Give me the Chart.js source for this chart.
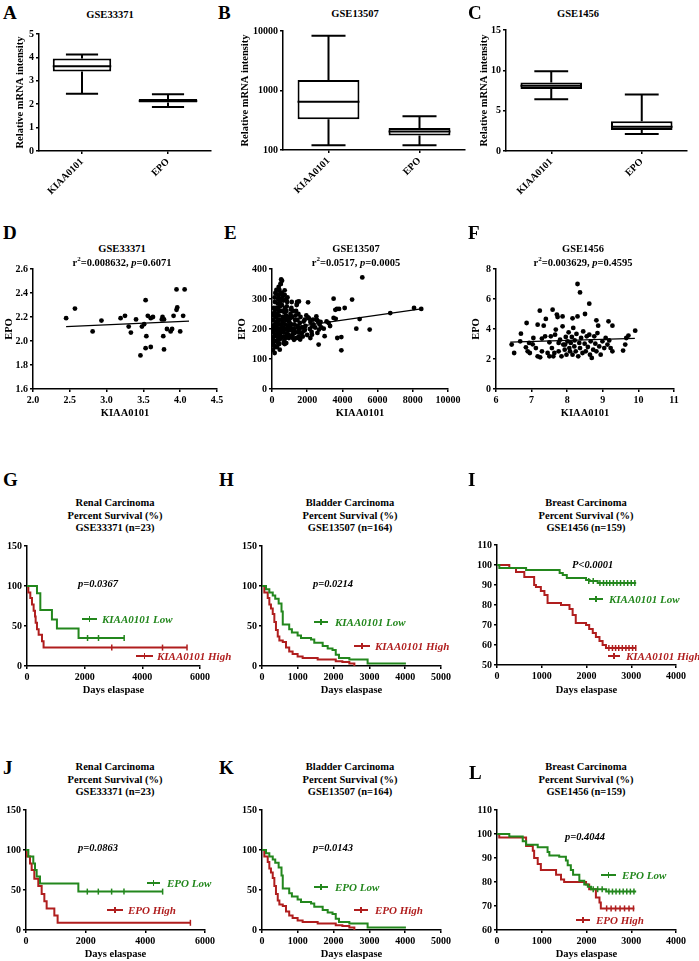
<!DOCTYPE html>
<html>
<head>
<meta charset="utf-8">
<script src="https://cdn.jsdelivr.net/npm/chart.js@4.4.1/dist/chart.umd.min.js"></script>
<style>
body { margin: 0; background: #fff; }
#page { position: relative; width: 699px; height: 961px; overflow: hidden; font-family: "Liberation Serif", "Times New Roman", serif; font-weight: bold; color: #000; }
#page canvas { position: absolute; }
.t { position: absolute; white-space: nowrap; transform: translate(-50%, -50%); font-size: 10.5px; line-height: 1; }
.t sup { font-size: 7px; line-height: 0; }
.letter { position: absolute; font-size: 19px; line-height: 1; transform: translateY(-50%); }
.pv { position: absolute; white-space: nowrap; font-style: italic; font-size: 10.5px; line-height: 1; transform: translateY(-50%); }
.leg { position: absolute; white-space: nowrap; font-style: italic; font-size: 11px; line-height: 1; transform: translateY(-50%); }
.smp { position: absolute; height: 2px; }
</style>
</head>
<body>
<div id="page"></div>
<script>
// ---- box plots (A-C) : [KIAA0101, EPO] ----
const boxLabels = ['KIAA0101', 'EPO'];
const aMin = [2.45, 1.88], aQ1 = [3.4, 2.07], aMed = [3.62, 2.14], aQ3 = [3.95, 2.22], aMax = [4.12, 2.43];
const bMin = [120, 120], bQ1 = [330, 175], bMed = [650, 205], bQ3 = [1500, 235], bMax = [8300, 370];
const cMin = [6.4, 2.1], cQ1 = [7.7, 2.6], cMed = [8.1, 3.0], cQ3 = [8.5, 3.7], cMax = [9.9, 7.0];

// ---- scatter (D-F) : [KIAA0101, EPO] ----
const dPoints = [[2.45,2.19],[2.57,2.27],[2.81,2.08],[2.93,2.17],[3.19,2.19],[3.25,2.21],[3.30,2.12],[3.33,2.07],[3.40,2.18],[3.48,2.12],[3.46,1.88],[3.51,2.14],[3.53,1.94],[3.54,2.04],[3.53,2.34],[3.56,2.21],[3.60,2.19],[3.63,2.20],[3.60,1.95],[3.76,2.20],[3.77,2.04],[3.78,1.93],[3.78,2.18],[3.82,2.10],[3.87,2.08],[3.89,2.10],[3.91,2.21],[3.95,2.26],[3.96,2.28],[3.95,2.43],[4.00,2.08],[4.06,2.43],[4.04,2.21],[3.75,2.18]];
const dFit = [[2.45, 2.12], [4.12, 2.165]];

const ePoints = [[5130,372],[3500,301],[4550,298],[4790,201],[5550,198],[4980,233],[4130,270],[3810,267],[3690,267],[3600,264],[3710,170],[3940,173],[3940,129],[3620,234],[3500,237],[3220,220],[2940,201],[2990,176],[2650,148],[2580,187],[2670,198],[2800,205],[2610,226],[2760,224],[2520,242],[2330,231],[2180,223],[2050,239],[2050,289],[2180,170],[2270,181],[2290,209],[1860,231],[1860,198],[1720,189],[1530,170],[1530,292],[1420,284],[1480,203],[1290,187],[1190,198],[1250,164],[1100,242],[1100,270],[1040,207],[970,223],[910,181],[910,240],[810,300],[810,153],[720,314],[720,329],[660,153],[620,198],[570,231],[570,361],[490,351],[440,131],[440,287],[380,311],[340,264],[300,176],[250,220],[210,142],[150,120],[110,270],[60,198],[8070,270],[8480,267],[6720,253],
[50,130],[80,145],[100,160],[120,175],[60,190],[90,205],[140,215],[70,230],[110,245],[150,255],[180,265],[60,150],[200,140],[230,160],[260,180],[210,195],[240,210],[270,225],[220,240],[290,250],[310,270],[330,285],[350,300],[300,315],[280,140],[320,155],[360,170],[340,190],[380,200],[400,215],[420,230],[390,245],[430,260],[450,275],[470,290],[480,320],[500,350],[520,365],[540,300],[560,280],[580,260],[600,240],[620,220],[640,205],[660,190],[680,175],[700,160],[720,150],[740,200],[760,215],[780,230],[800,245],[820,260],[840,275],[860,290],[880,305],[900,210],[920,195],[940,180],[960,170],[980,200],[1000,220],[1020,235],[1050,250],[1080,265],[1100,215],[1130,195],[1160,180],[1190,170],[1220,185],[1250,200],[1280,215],[1310,230],[1340,245],[1370,260],[1400,280],[1430,290],[1460,210],[1490,190],[1520,175],[1550,200],[1580,220],[1620,240],[1660,185],[1700,205],[1750,175],[1800,225],[1850,195],[1900,210],[1950,245],[2000,180],[2100,235],[2150,200],[2250,190],[2350,215],[2450,205],[2550,230],[2700,215],[3100,225],[3300,210],[150,305],[170,290],[190,320],[250,330],[420,330],[560,320],[610,310],[650,295],[380,340],[460,180],[520,170],[300,200],[330,215],[360,230],[470,200],[500,215],[540,190],[580,205],[760,170],[820,185],[870,200],[950,230],[1150,240],[1200,260],[1300,190],[1400,170],[1600,165],[30,170],[40,210],[20,250],[130,195],[170,180],[230,270],[270,160],[410,150],[440,165],[690,235],[710,255],[730,270],[1060,175],[1120,290],[1450,230],[1500,250]];
const eFit = [[30, 196], [8480, 267]];

const fPoints = [[8.29,7.0],[8.36,6.44],[8.62,5.69],[7.59,5.29],[7.23,5.22],[8.50,5.0],[6.86,4.4],[7.17,4.29],[7.40,4.67],[7.71,4.96],[7.73,4.8],[7.87,4.84],[8.15,4.71],[8.29,4.84],[9.16,4.51],[8.82,4.58],[8.87,4.22],[9.27,4.22],[7.34,4.22],[7.38,3.51],[6.70,3.69],[6.68,3.18],[6.44,2.96],[6.51,2.40],[6.84,2.78],[6.95,2.4],[7.03,2.98],[7.12,2.73],[7.17,2.18],[7.24,2.11],[7.29,3.36],[7.29,2.51],[7.45,2.4],[7.50,3.11],[7.54,3.51],[7.57,2.73],[7.61,2.18],[7.66,3.62],[7.68,3.96],[7.76,2.51],[7.80,3.29],[7.84,2.18],[7.87,4.18],[7.89,2.96],[7.93,2.62],[7.96,3.47],[7.98,2.29],[8.01,3.18],[8.04,3.78],[8.06,2.73],[8.08,2.51],[8.10,3.07],[8.13,3.47],[8.15,2.29],[8.17,4.07],[8.20,2.84],[8.21,3.24],[8.24,2.51],[8.26,3.67],[8.31,2.18],[8.34,3.07],[8.36,2.73],[8.39,3.40],[8.43,2.40],[8.45,3.84],[8.49,3.02],[8.52,2.51],[8.55,3.51],[8.58,2.80],[8.62,3.62],[8.64,2.29],[8.66,3.18],[8.69,2.07],[8.73,2.62],[8.76,3.51],[8.79,3.02],[8.82,2.51],[8.85,3.73],[8.90,2.84],[8.94,2.29],[8.99,3.18],[9.04,2.73],[9.08,3.40],[9.13,2.96],[9.18,3.24],[9.22,2.73],[9.27,2.51],[9.57,2.56],[9.63,2.96],[9.66,3.40],[9.72,3.56],[9.91,3.89],[7.05,3.40],[6.93,3.07],[6.89,2.51],[7.50,2.18],[7.64,2.40],[7.76,3.07],[7.94,2.96]];
const fFit = [[6.4, 3.12], [9.9, 3.37]];

// ---- Kaplan-Meier (G-L) : days, percent survival ----
const gLowT = [0, 346, 462, 865, 1038, 1788, 3370];
const gLowS = [100, 91, 70, 58, 47, 35, 35];
const gLowCT = [2100, 2480, 3370], gLowCS = [35, 35, 35];
const gHighT = [0, 46, 115, 173, 230, 277, 300, 346, 404, 520, 575, 5550];
const gHighS = [100, 92, 85, 77, 69, 62, 54, 46, 39, 31, 23, 23];
const gHighCT = [2940, 4700, 5550], gHighCS = [23, 23, 23];

const hLowT = [0, 112, 205, 300, 370, 465, 545, 580, 760, 835, 995, 1090, 1370, 1460, 1695, 1835, 1970, 2060, 2150, 2440, 2950, 4020];
const hLowS = [100, 96, 92, 88, 84, 78, 68, 52, 46, 42, 38, 35, 33, 29, 25, 22, 20, 14, 10, 8, 3, 3];
const hHighT = [0, 65, 160, 205, 250, 300, 345, 390, 440, 485, 580, 670, 760, 855, 995, 1135, 1555, 2060, 2245, 2440, 2580];
const hHighS = [100, 92, 85, 77, 72, 65, 55, 45, 37, 32, 30, 23, 18, 15, 12, 10, 8, 6, 5, 3, 0];

const iLowT = [0, 52, 650, 1400, 1470, 1560, 1990, 2070, 2250, 3110];
const iLowS = [100, 98.5, 97.5, 96, 95, 93.5, 92.5, 92, 91, 91];
const iLowCT = [2050, 2150, 2300, 2380, 2450, 2520, 2600, 2680, 2760, 2840, 2920, 3000, 3080];
const iLowCS = [92, 92, 91, 91, 91, 91, 91, 91, 91, 91, 91, 91, 91];
const iHighT = [0, 275, 425, 610, 830, 870, 980, 1060, 1130, 1430, 1620, 1690, 1760, 1990, 2060, 2140, 2210, 2290, 2360, 2435, 3110];
const iHighS = [100, 98.5, 96.5, 94, 90, 89, 87, 85, 81, 80, 78, 75, 71, 70, 68, 66, 64, 62, 60, 58.5, 58.5];
const iHighCT = [2500, 2580, 2650, 2720, 2800, 2880, 2950, 3030, 3100];
const iHighCS = [58.5, 58.5, 58.5, 58.5, 58.5, 58.5, 58.5, 58.5, 58.5];

const jLowT = [0, 78, 245, 302, 357, 469, 1755, 4580];
const jLowS = [100, 92, 83, 75, 67, 58, 48, 48];
const jLowCT = [2055, 2424, 2870, 3284, 4580], jLowCS = [48, 48, 48, 48, 48];
const jHighT = [0, 22, 134, 190, 279, 412, 525, 615, 692, 950, 1060, 5510];
const jHighS = [100, 92, 83, 75, 64, 55, 45, 36, 27, 18, 9, 9];
const jHighCT = [5510], jHighCS = [9];

const kLowT = [0, 112, 205, 300, 370, 465, 545, 580, 760, 835, 995, 1090, 1370, 1460, 1695, 1835, 1970, 2060, 2150, 2440, 2950, 4020];
const kLowS = [100, 96, 92, 88, 84, 78, 68, 52, 46, 42, 38, 35, 33, 29, 25, 22, 20, 14, 10, 8, 3, 3];
const kHighT = [0, 65, 160, 205, 250, 300, 345, 390, 440, 485, 580, 670, 760, 855, 995, 1135, 1555, 2060, 2245, 2440, 2580];
const kHighS = [100, 92, 85, 77, 72, 65, 55, 45, 37, 32, 30, 23, 18, 15, 12, 10, 8, 6, 5, 3, 0];

const lLowT = [0, 275, 575, 650, 910, 1130, 1170, 1390, 1540, 1580, 1650, 1700, 1840, 1950, 2030, 2100, 2440, 3110];
const lLowS = [100, 99, 97, 95.5, 94.5, 92.5, 91, 90.5, 89, 87, 85, 83, 80.5, 79, 78, 77, 76, 76];
const lLowCT = [2150, 2250, 2350, 2500, 2580, 2660, 2740, 2820, 2900, 2980, 3060];
const lLowCS = [77, 77, 77, 76, 76, 76, 76, 76, 76, 76, 76];
const lHighT = [0, 50, 650, 800, 830, 910, 980, 1320, 1430, 1500, 1990, 2060, 2210, 2290, 2320, 3070];
const lHighS = [100, 98.5, 95, 93, 90, 87.5, 85, 83, 81, 80, 79, 77, 73.5, 71.5, 69, 69];
const lHighCT = [2450, 2550, 2650, 2750, 2850, 2950, 3050];
const lHighCS = [69, 69, 69, 69, 69, 69, 69];

const GREEN = '#23871d';
const RED = '#b01e1e';

Chart.defaults.font.family = '"Liberation Serif", "Times New Roman", serif';
Chart.defaults.font.weight = 'bold';
Chart.defaults.color = '#000';
Chart.defaults.animation = false;
Chart.defaults.responsive = false;
Chart.defaults.events = [];
Chart.defaults.plugins.legend.display = false;
Chart.defaults.plugins.tooltip.enabled = false;

// whiskers + median for the box plots, drawn via the y scale
Chart.register({
  id: 'whiskers',
  afterDatasetsDraw(chart, args, opts) {
    if (!opts || !opts.max) return;
    const ctx = chart.ctx, ys = chart.scales.y;
    const bars = chart.getDatasetMeta(0).data;
    ctx.save();
    ctx.strokeStyle = '#000';
    ctx.lineWidth = 2;
    bars.forEach((bar, i) => {
      const x = bar.x, half = bar.width / 2, cap = half * 0.55;
      const top = Math.min(bar.y, bar.base), bot = Math.max(bar.y, bar.base);
      const yMax = ys.getPixelForValue(opts.max[i]);
      const yMin = ys.getPixelForValue(opts.min[i]);
      const yMed = ys.getPixelForValue(opts.med[i]);
      ctx.beginPath();
      ctx.moveTo(x, top); ctx.lineTo(x, yMax);
      ctx.moveTo(x - cap, yMax); ctx.lineTo(x + cap, yMax);
      ctx.moveTo(x, bot); ctx.lineTo(x, yMin);
      ctx.moveTo(x - cap, yMin); ctx.lineTo(x + cap, yMin);
      ctx.moveTo(x - half, yMed); ctx.lineTo(x + half, yMed);
      ctx.stroke();
    });
    ctx.restore();
  }
});

const page = document.getElementById('page');
const PAD_TOP = 8;

function axis(min, max, step, title, fmt) {
  return {
    type: 'linear', min: min, max: max,
    ticks: { stepSize: step, padding: 2, autoSkip: false, maxRotation: 0, font: { size: 10, weight: 'bold' }, color: '#000', callback: fmt || (v => String(v)) },
    grid: { drawOnChartArea: false, drawTicks: true, tickLength: 3, color: '#000', lineWidth: 1.5 },
    border: { color: '#000', width: 1.5 },
    title: { display: !!title, text: title || '', padding: 0, font: { size: 10.5, weight: 'bold' }, color: '#000' }
  };
}

// p = plot area (l,t,r,b), cl = canvas left, cb = canvas bottom, padR = right padding
function makeChart(p, config) {
  const c = document.createElement('canvas');
  const top = p.t - PAD_TOP;
  const w = p.r + p.padR - p.cl, h = p.cb - top;
  c.width = w; c.height = h;
  c.style.left = p.cl + 'px'; c.style.top = top + 'px';
  c.style.width = w + 'px'; c.style.height = h + 'px';
  page.appendChild(c);
  config.options.layout = { padding: { top: PAD_TOP, right: p.padR, left: 0, bottom: 0 } };
  config.options.scales.x.afterFit = s => { s.height = p.cb - p.b; };
  config.options.scales.y.afterFit = s => { s.width = p.l - p.cl; };
  return new Chart(c, config);
}

function boxChart(p, yAxis, mn, q1, md, q3, mx) {
  const xAxis = {
    type: 'category', offset: true,
    ticks: { minRotation: 45, maxRotation: 45, padding: 2, autoSkip: false, font: { size: 10, weight: 'bold' }, color: '#000' },
    grid: { offset: false, drawOnChartArea: false, drawTicks: true, tickLength: 3, color: '#000', lineWidth: 1.5 },
    border: { color: '#000', width: 1.5 }
  };
  makeChart(p, {
    type: 'bar',
    data: { labels: boxLabels, datasets: [{ data: q1.map((v, i) => [v, q3[i]]), backgroundColor: '#fff', borderColor: '#000', borderWidth: 2, borderSkipped: false, barPercentage: 0.68, categoryPercentage: 1 }] },
    options: { plugins: { whiskers: { min: mn, med: md, max: mx } }, scales: { x: xAxis, y: yAxis } }
  });
}

function scatterChart(p, pts, fit, xAxis, yAxis) {
  makeChart(p, {
    type: 'scatter',
    data: { datasets: [
      { data: pts.map(d => ({ x: d[0], y: d[1] })), pointRadius: 2.4, backgroundColor: '#000', borderWidth: 0 },
      { data: fit.map(d => ({ x: d[0], y: d[1] })), showLine: true, pointRadius: 0, borderColor: '#000', borderWidth: 1.2 }
    ] },
    options: { scales: { x: xAxis, y: yAxis } }
  });
}

function kmChart(p, xAxis, yAxis, curves) {
  const ds = [];
  curves.forEach(cv => {
    ds.push({ data: cv.t.map((x, i) => ({ x: x, y: cv.s[i] })), showLine: true, stepped: true, pointRadius: 0, borderColor: cv.color, borderWidth: 2 });
    if (cv.ct) ds.push({ data: cv.ct.map((x, i) => ({ x: x, y: cv.cs[i] })), pointStyle: 'line', rotation: 90, pointRadius: 3, borderColor: cv.color, borderWidth: 1.5 });
  });
  makeChart(p, { type: 'scatter', data: { datasets: ds }, options: { scales: { x: xAxis, y: yAxis } } });
}

function txt(cls, x, y, html, color) {
  const d = document.createElement('div');
  d.className = cls;
  d.style.left = x + 'px'; d.style.top = y + 'px';
  if (color) d.style.color = color;
  d.innerHTML = html;
  page.appendChild(d);
}

function legendItem(x1, x2, y, textX, text, color) {
  const s = document.createElement('div');
  s.className = 'smp';
  s.style.left = x1 + 'px'; s.style.top = (y - 1) + 'px'; s.style.width = (x2 - x1) + 'px'; s.style.background = color;
  page.appendChild(s);
  const tk = document.createElement('div');
  tk.className = 'smp';
  tk.style.left = ((x1 + x2) / 2 - 0.75) + 'px'; tk.style.top = (y - 3) + 'px'; tk.style.width = '1.5px'; tk.style.height = '6px'; tk.style.background = color;
  page.appendChild(tk);
  txt('leg', textX, y, text, color);
}

const one = v => v.toFixed(1);
const yRel = 'Relative mRNA intensity';
const days = 'Days elaspase';

// ---- row 1: box plots ----
boxChart({ l: 39, t: 34, r: 211, b: 151, cl: 14, cb: 205, padR: 8 }, axis(0, 5, 1, yRel), aMin, aQ1, aMed, aQ3, aMax);
const logY = axis(100, 10000, null, yRel);
logY.type = 'logarithmic';
logY.afterBuildTicks = s => { s.ticks = [100, 1000, 10000].map(v => ({ value: v })); };
boxChart({ l: 283, t: 31, r: 465, b: 150, cl: 239, cb: 205, padR: 8 }, logY, bMin, bQ1, bMed, bQ3, bMax);
boxChart({ l: 506, t: 30, r: 687, b: 151, cl: 478, cb: 205, padR: 8 }, axis(0, 15, 5, yRel), cMin, cQ1, cMed, cQ3, cMax);

// ---- row 2: scatter ----
scatterChart({ l: 33, t: 269, r: 217, b: 389, cl: 3, cb: 420, padR: 14 }, dPoints, dFit, axis(2, 4.5, 0.5, 'KIAA0101', one), axis(1.6, 2.6, 0.2, 'EPO', one));
scatterChart({ l: 272, t: 269, r: 448, b: 389, cl: 236, cb: 420, padR: 16 }, ePoints, eFit, axis(0, 10000, 2000, 'KIAA0101'), axis(0, 400, 100, 'EPO'));
scatterChart({ l: 496, t: 269, r: 674, b: 389, cl: 470, cb: 420, padR: 14 }, fPoints, fFit, axis(6, 11, 1, 'KIAA0101'), axis(0, 8, 2, 'EPO'));

// ---- rows 3-4: survival ----
kmChart({ l: 27, t: 546, r: 200, b: 666, cl: 0, cb: 697, padR: 14 }, axis(0, 6000, 2000, days), axis(0, 150, 50), [
  { t: gLowT, s: gLowS, ct: gLowCT, cs: gLowCS, color: GREEN },
  { t: gHighT, s: gHighS, ct: gHighCT, cs: gHighCS, color: RED }]);
kmChart({ l: 262, t: 546, r: 441, b: 666, cl: 232, cb: 697, padR: 14 }, axis(0, 5000, 1000, days), axis(0, 150, 50), [
  { t: hLowT, s: hLowS, color: GREEN },
  { t: hHighT, s: hHighS, color: RED }]);
kmChart({ l: 497, t: 545, r: 676, b: 665, cl: 467, cb: 697, padR: 14 }, axis(0, 4000, 1000, days), axis(50, 110, 10), [
  { t: iLowT, s: iLowS, ct: iLowCT, cs: iLowCS, color: GREEN },
  { t: iHighT, s: iHighS, ct: iHighCT, cs: iHighCS, color: RED }]);
kmChart({ l: 26, t: 810, r: 205, b: 930, cl: 0, cb: 961, padR: 14 }, axis(0, 6000, 2000, days), axis(0, 150, 50), [
  { t: jLowT, s: jLowS, ct: jLowCT, cs: jLowCS, color: GREEN },
  { t: jHighT, s: jHighS, ct: jHighCT, cs: jHighCS, color: RED }]);
kmChart({ l: 262, t: 810, r: 441, b: 930, cl: 232, cb: 961, padR: 14 }, axis(0, 5000, 1000, days), axis(0, 150, 50), [
  { t: kLowT, s: kLowS, color: GREEN },
  { t: kHighT, s: kHighS, color: RED }]);
kmChart({ l: 497, t: 810, r: 676, b: 930, cl: 467, cb: 961, padR: 14 }, axis(0, 4000, 1000, days), axis(60, 110, 10), [
  { t: lLowT, s: lLowS, ct: lLowCT, cs: lLowCS, color: GREEN },
  { t: lHighT, s: lHighS, ct: lHighCT, cs: lHighCS, color: RED }]);

// ---- panel letters ----
[['A', 3, 12], ['B', 218, 12], ['C', 468, 12], ['D', 3, 232], ['E', 224, 232], ['F', 468, 232],
 ['G', 3, 479], ['H', 219, 479], ['I', 468, 479], ['J', 3, 767], ['K', 219, 767], ['L', 469, 772]]
  .forEach(l => txt('letter', l[1], l[2], l[0]));

// ---- titles ----
txt('t', 110, 15, 'GSE33371');
txt('t', 355, 14, 'GSE13507');
txt('t', 578, 14, 'GSE1456');
txt('t', 122, 249, 'GSE33371');
txt('t', 122, 263, 'r<sup>2</sup>=0.008632, <i>p</i>=0.6071');
txt('t', 356, 249, 'GSE13507');
txt('t', 356, 263, 'r<sup>2</sup>=0.0517, <i>p</i>=0.0005');
txt('t', 583, 249, 'GSE1456');
txt('t', 583, 263, 'r<sup>2</sup>=0.003629, <i>p</i>=0.4595');
[[115, 503, 'Renal Carcinoma', 'GSE33371 (n=23)'], [350, 503, 'Bladder Carcinoma', 'GSE13507 (n=164)'], [586, 503, 'Breast Carcinoma', 'GSE1456 (n=159)'],
 [115, 767, 'Renal Carcinoma', 'GSE33371 (n=23)'], [350, 767, 'Bladder Carcinoma', 'GSE13507 (n=164)'], [586, 767, 'Breast Carcinoma', 'GSE1456 (n=159)']]
  .forEach(k => {
    txt('t', k[0], k[1], k[2]);
    txt('t', k[0], k[1] + 12.5, 'Percent Survival (%)');
    txt('t', k[0], k[1] + 25, k[3]);
  });

// ---- p values ----
txt('pv', 78, 584, 'p=0.0367');
txt('pv', 313, 584, 'p=0.0214');
txt('pv', 572, 565, 'P&lt;0.0001');
txt('pv', 78, 848, 'p=0.0863');
txt('pv', 313, 848, 'p=0.0143');
txt('pv', 565, 837, 'p=0.4044');

// ---- legends ----
legendItem(82, 97, 619, 102, 'KIAA0101 Low', GREEN);
legendItem(136, 153, 656, 157, 'KIAA0101 High', RED);
legendItem(314, 328, 622, 335, 'KIAA0101 Low', GREEN);
legendItem(354, 370, 646, 375, 'KIAA0101 High', RED);
legendItem(589, 603, 599, 609, 'KIAA0101 Low', GREEN);
legendItem(608, 620, 656, 626, 'KIAA0101 High', RED);
legendItem(147, 160, 883, 167, 'EPO Low', GREEN);
legendItem(107, 123, 910, 128, 'EPO High', RED);
legendItem(314, 328, 887, 335, 'EPO Low', GREEN);
legendItem(354, 368, 910, 375, 'EPO High', RED);
legendItem(601, 616, 875, 622, 'EPO Low', GREEN);
legendItem(576, 590, 920, 596, 'EPO High', RED);
</script>
</body>
</html>
